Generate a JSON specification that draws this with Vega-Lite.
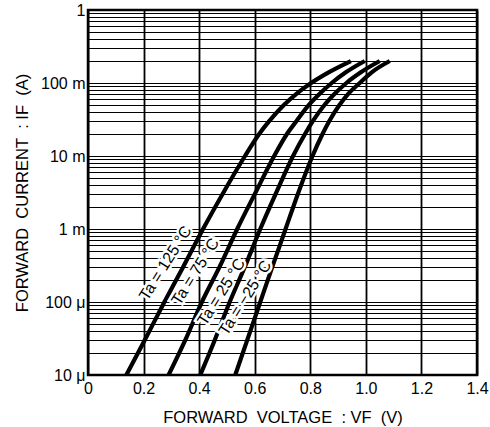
{
  "$schema": "https://vega.github.io/schema/vega-lite/v6.json",
  "autosize": {"type": "none"},
  "width": 389,
  "height": 365,
  "padding": {"left": 88, "top": 10, "right": 13, "bottom": 52},
  "background": "white",
  "config": {
    "view": {"stroke": "black", "strokeWidth": 2.5},
    "font": "Liberation Sans",
    "axis": {"domain": false, "gridColor": "black", "gridOpacity": 1, "gridWidth": 1.2, "labelColor": "black", "titleColor": "black", "labelFont": "Liberation Sans", "titleFont": "Liberation Sans", "labelFontSize": 16, "titleFontSize": 16.5, "titleFontWeight": "normal"}
  },
  "datasets": {
    "curves": [
      {"ta": "125", "v": 0.138, "i": 1e-5}, {"ta": "125", "v": 0.204, "i": 3e-5}, {"ta": "125", "v": 0.275, "i": 1e-4}, {"ta": "125", "v": 0.342, "i": 3e-4}, {"ta": "125", "v": 0.414, "i": 1e-3}, {"ta": "125", "v": 0.484, "i": 3e-3}, {"ta": "125", "v": 0.565, "i": 1e-2}, {"ta": "125", "v": 0.616, "i": 2e-2}, {"ta": "125", "v": 0.652, "i": 3e-2}, {"ta": "125", "v": 0.705, "i": 5e-2}, {"ta": "125", "v": 0.748, "i": 7e-2}, {"ta": "125", "v": 0.803, "i": 0.1}, {"ta": "125", "v": 0.866, "i": 0.14}, {"ta": "125", "v": 0.946, "i": 0.2},
      {"ta": "75", "v": 0.29, "i": 1e-5}, {"ta": "75", "v": 0.35, "i": 3e-5}, {"ta": "75", "v": 0.41, "i": 1e-4}, {"ta": "75", "v": 0.473, "i": 3e-4}, {"ta": "75", "v": 0.537, "i": 1e-3}, {"ta": "75", "v": 0.6, "i": 3e-3}, {"ta": "75", "v": 0.67, "i": 1e-2}, {"ta": "75", "v": 0.716, "i": 2e-2}, {"ta": "75", "v": 0.75, "i": 3e-2}, {"ta": "75", "v": 0.795, "i": 5e-2}, {"ta": "75", "v": 0.832, "i": 7e-2}, {"ta": "75", "v": 0.877, "i": 0.1}, {"ta": "75", "v": 0.928, "i": 0.14}, {"ta": "75", "v": 0.996, "i": 0.2},
      {"ta": "25", "v": 0.404, "i": 1e-5}, {"ta": "25", "v": 0.456, "i": 3e-5}, {"ta": "25", "v": 0.51, "i": 1e-4}, {"ta": "25", "v": 0.564, "i": 3e-4}, {"ta": "25", "v": 0.62, "i": 1e-3}, {"ta": "25", "v": 0.675, "i": 3e-3}, {"ta": "25", "v": 0.738, "i": 1e-2}, {"ta": "25", "v": 0.781, "i": 2e-2}, {"ta": "25", "v": 0.809, "i": 3e-2}, {"ta": "25", "v": 0.851, "i": 5e-2}, {"ta": "25", "v": 0.886, "i": 7e-2}, {"ta": "25", "v": 0.93, "i": 0.1}, {"ta": "25", "v": 0.982, "i": 0.14}, {"ta": "25", "v": 1.05, "i": 0.2},
      {"ta": "-25", "v": 0.53, "i": 1e-5}, {"ta": "-25", "v": 0.573, "i": 3e-5}, {"ta": "-25", "v": 0.62, "i": 1e-4}, {"ta": "-25", "v": 0.663, "i": 3e-4}, {"ta": "-25", "v": 0.711, "i": 1e-3}, {"ta": "-25", "v": 0.755, "i": 3e-3}, {"ta": "-25", "v": 0.808, "i": 1e-2}, {"ta": "-25", "v": 0.844, "i": 2e-2}, {"ta": "-25", "v": 0.868, "i": 3e-2}, {"ta": "-25", "v": 0.905, "i": 5e-2}, {"ta": "-25", "v": 0.935, "i": 7e-2}, {"ta": "-25", "v": 0.978, "i": 0.1}, {"ta": "-25", "v": 1.021, "i": 0.14}, {"ta": "-25", "v": 1.086, "i": 0.2}
    ],
    "labels": [
      {"txt": "Ta = 125 °C", "v": 0.279, "i": 3.4e-4},
      {"txt": "Ta = 75 °C", "v": 0.387, "i": 2.6e-4},
      {"txt": "Ta = 25 °C", "v": 0.48, "i": 1.37e-4},
      {"txt": "Ta = −25 °C", "v": 0.566, "i": 1.14e-4}
    ]
  },
  "layer": [
    {
      "data": {"name": "curves"},
      "mark": {"type": "line", "color": "black", "strokeWidth": 4.2, "interpolate": "monotone", "clip": true},
      "encoding": {
        "x": {"field": "v", "type": "quantitative", "scale": {"domain": [0, 1.4], "nice": false},
          "axis": {"values": [0, 0.2, 0.4, 0.6, 0.8, 1.0, 1.2, 1.4], "labelExpr": "datum.value == 0 ? '0' : format(datum.value, '.1f')", "ticks": false, "labelPadding": 5, "gridWidth": 1.8, "title": "FORWARD\u00a0\u00a0VOLTAGE\u00a0\u00a0:\u00a0VF\u00a0\u00a0(V)", "titlePadding": 13, "labelFlush": false}},
        "y": {"field": "i", "type": "quantitative", "scale": {"type": "log", "domain": [1e-5, 1], "nice": false},
          "axis": {"values": [1e-5, 2e-5, 3e-5, 4e-5, 5e-5, 6e-5, 7e-5, 8e-5, 9e-5, 1e-4, 2e-4, 3e-4, 4e-4, 5e-4, 6e-4, 7e-4, 8e-4, 9e-4, 1e-3, 2e-3, 3e-3, 4e-3, 5e-3, 6e-3, 7e-3, 8e-3, 9e-3, 1e-2, 2e-2, 3e-2, 4e-2, 5e-2, 6e-2, 7e-2, 8e-2, 9e-2, 0.1, 0.2, 0.3, 0.4, 0.5, 0.6, 0.7, 0.8, 0.9, 1],
            "labelExpr": "datum.value == 1 ? '1' : datum.value == 0.1 ? '100 m' : datum.value == 0.01 ? '10 m' : datum.value == 0.001 ? '1 m' : datum.value == 0.0001 ? '100 μ' : datum.value == 0.00001 ? '10 μ' : ''",
            "ticks": false, "labelPadding": 3, "labelFlush": false, "title": "FORWARD\u00a0\u00a0CURRENT\u00a0\u00a0:\u00a0IF\u00a0\u00a0(A)", "titlePadding": 10}},
        "detail": {"field": "ta", "type": "nominal"}
      }
    },
    {
      "data": {"name": "labels"},
      "mark": {"type": "text", "angle": -58, "fontSize": 16, "color": "white", "stroke": "white", "strokeWidth": 5, "font": "Liberation Sans"},
      "encoding": {
        "x": {"field": "v", "type": "quantitative"},
        "y": {"field": "i", "type": "quantitative"},
        "text": {"field": "txt", "type": "nominal"}
      }
    },
    {
      "data": {"name": "labels"},
      "mark": {"type": "text", "angle": -58, "fontSize": 16, "color": "black", "font": "Liberation Sans"},
      "encoding": {
        "x": {"field": "v", "type": "quantitative"},
        "y": {"field": "i", "type": "quantitative"},
        "text": {"field": "txt", "type": "nominal"}
      }
    }
  ]
}
